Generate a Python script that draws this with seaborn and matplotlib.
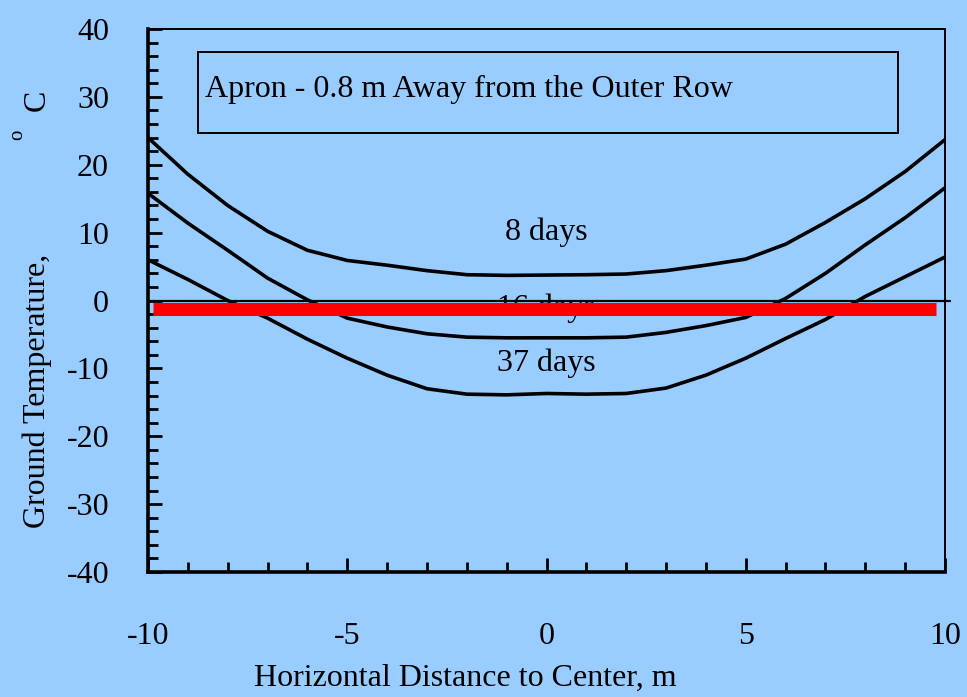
import matplotlib
matplotlib.use('Agg')
import matplotlib.pyplot as plt
import matplotlib.patches as patches
import seaborn as sns
import pandas as pd
import numpy as np

# values
distance = [-10, -9, -8, -7, -6, -5, -4, -3, -2, -1, 0, 1, 2, 3, 4, 5, 6, 7, 8, 9, 10]
temp_8_days = [24.0, 18.6, 14.0, 10.2, 7.4, 5.9, 5.2, 4.4, 3.8, 3.7, 3.75,
               3.8, 3.9, 4.4, 5.2, 6.1, 8.3, 11.5, 15.0, 19.0, 23.7]
temp_16_days = [15.8, 11.4, 7.4, 3.3, 0.1, -2.6, -3.9, -4.9, -5.4, -5.5, -5.5,
                -5.5, -5.4, -4.7, -3.7, -2.5, 0.3, 4.0, 8.2, 12.2, 16.6]
temp_37_days = [6.0, 3.1, 0.0, -2.6, -5.7, -8.5, -11.0, -13.0, -13.8, -13.9, -13.7,
                -13.8, -13.7, -12.9, -11.0, -8.5, -5.6, -2.8, 0.6, 3.5, 6.4]
series_names = ['8 days', '16 days', '37 days']
label_y = [10, -1.2, -9.2]
freeze_line_x = [-9.87, 9.78]
freeze_line_y = [-1.25, -1.25]

bg = '#99CCFF'
sns.set_style('white')
plt.rcParams['font.family'] = ['Liberation Serif', 'DejaVu Serif']
plt.rcParams['axes.unicode_minus'] = False
plt.rcParams['text.color'] = 'black'

df = pd.DataFrame({
    'distance': distance * 3,
    'temp': temp_8_days + temp_16_days + temp_37_days,
    'series': np.repeat(series_names, len(distance)),
})

fig = plt.figure(figsize=(9.67, 6.97), dpi=100, facecolor=bg)
ax = fig.add_axes([148 / 967, 1 - 572 / 697, 797 / 967, 543 / 697])
ax.set_facecolor(bg)

sns.lineplot(data=df, x='distance', y='temp', units='series', estimator=None,
             color='black', linewidth=2.6, ax=ax, legend=False)

for name, y in zip(series_names, label_y):
    ax.text(0, y, name, ha='center', va='center', fontsize=23, zorder=1)

# zero line, running a little past the right edge
ax.plot([-10, 10.13], [0, 0], color='black', linewidth=1.6, clip_on=False, zorder=3)
ax.plot(freeze_line_x, freeze_line_y, color='#FF0000', linewidth=9.4,
        solid_capstyle='butt', zorder=4)

ax.set_xlim(-10, 10)
ax.set_ylim(-40, 40)
ax.set_xticks(np.arange(-10, 11, 5))
ax.set_xticks(np.arange(-10, 11, 1), minor=True)
ax.set_yticks(np.arange(-40, 41, 10))
ax.set_yticks(np.arange(-40, 41, 2), minor=True)
ax.tick_params(axis='both', which='both', direction='in', colors='black',
               labelsize=23, bottom=True, left=True, top=False, right=False)
ax.tick_params(axis='x', which='major', length=10, width=2.0, pad=36)
ax.tick_params(axis='x', which='minor', length=7.5, width=2.0)
ax.tick_params(axis='y', which='major', length=10, width=2.0, pad=28)
ax.tick_params(axis='y', which='minor', length=7.5, width=2.0)
ax.set_xlabel('')
ax.set_ylabel('')

for side in ['left', 'bottom']:
    ax.spines[side].set_linewidth(2.6)
for side in ['top', 'right']:
    ax.spines[side].set_linewidth(1.4)
for s in ax.spines.values():
    s.set_color('black')
    s.set_visible(True)

box = patches.Rectangle((0.0627, 0.808), 0.878, 0.15, transform=ax.transAxes,
                        fill=False, edgecolor='black', linewidth=1.4, zorder=5)
ax.add_patch(box)
ax.text(0.072, 0.889, 'Apron - 0.8 m Away from the Outer Row', transform=ax.transAxes,
        ha='left', va='center', fontsize=23)

fig.text(465 / 967, 1 - 678 / 697, 'Horizontal Distance to Center, m',
         ha='center', va='center', fontsize=23)
fig.text(37 / 967, 1 - 528 / 697, 'Ground Temperature,', rotation=90,
         ha='center', va='bottom', fontsize=23)
fig.text(37 / 967, 1 - 100 / 697, 'C', rotation=90, ha='center', va='center', fontsize=23)
fig.text(18 / 967, 1 - 135 / 697, 'o', rotation=90, ha='center', va='center', fontsize=15)

fig.savefig('out.png', dpi=100, facecolor=bg)
